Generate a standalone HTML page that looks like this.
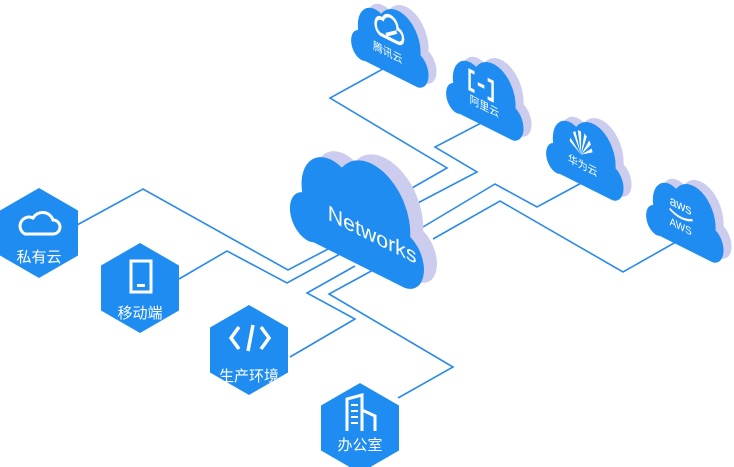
<!DOCTYPE html>
<html><head><meta charset="utf-8"><style>
html,body{margin:0;padding:0;background:#fff;}
svg{display:block;}
text{font-family:"Liberation Sans","Noto Sans CJK SC",sans-serif;fill:#fff;}
</style></head><body>
<svg width="734" height="467" viewBox="0 0 734 467" xmlns="http://www.w3.org/2000/svg">
<defs>
<path id="cl" d="M18,70 H82 A15,15 0 0 0 86,41 A27,27 0 0 0 38,22 A21,21 0 0 0 10,46 A12,12 0 0 0 18,70 Z"/>
<path id="hx" d="M39,0 L78,22.5 L78,67.5 L39,90 L0,67.5 L0,22.5 Z"/>
</defs>
<g fill="none" stroke="#2a8ae8" stroke-width="1.6">
<polyline points="77,225 143,189 288,270 330,248"/>
<polyline points="179,279 227,251 287,283 340,254"/>
<polyline points="290,357 355,319 307,293 355,266"/>
<polyline points="398,398 453,367 329,294 375,269"/>
<polyline points="390,65 330,98 447,168 405,192"/>
<polyline points="483,122 435,147 477,172 412,206"/>
<polyline points="587,180 537,207 495,184 423,227"/>
<polyline points="683,238 623,272 500,201 433,239"/>
</g>
<!-- Networks cloud -->
<g transform="translate(301,94) matrix(1,0.5,0,1,0,0) scale(1.42,1.85)"><use href="#cl" fill="#cccdee"/></g>
<g transform="translate(288,100) matrix(1,0.5,0,1,0,0) scale(1.42,1.85)"><use href="#cl" fill="#1e8cf0"/>
<text x="28" y="70" font-size="15" transform="scale(1,0.77)" >Networks</text></g>
<!-- small clouds -->
<g transform="translate(358,-31) matrix(1,0.5,0,1,0,0) scale(0.82,1.15)"><use href="#cl" fill="#cccdee"/></g>
<g transform="translate(350,-27) matrix(1,0.5,0,1,0,0) scale(0.82,1.15)"><use href="#cl" fill="#1e8cf0"/>
<text x="28" y="70" font-size="12" transform="scale(1,0.8)">腾讯云</text>
<path d="M37,40 c-9,-2 -7,-16 3,-14 c4,-9 18,-7 18,2 c9,0 9,12 0,12 z M44,38 l13,-7" fill="none" stroke="#fff" stroke-width="3"/></g>
<g transform="translate(453,22) matrix(1,0.5,0,1,0,0) scale(0.82,1.15)"><use href="#cl" fill="#cccdee"/></g>
<g transform="translate(445,26) matrix(1,0.5,0,1,0,0) scale(0.82,1.15)"><use href="#cl" fill="#1e8cf0"/>
<text x="30" y="70" font-size="12" transform="scale(1,0.8)">阿里云</text>
<path d="M36,28 h-6 v16 h6 M52,28 h6 v16 h-6 M40,36 h8" fill="none" stroke="#fff" stroke-width="3"/></g>
<g transform="translate(553,82) matrix(1,0.5,0,1,0,0) scale(0.82,1.15)"><use href="#cl" fill="#cccdee"/></g>
<g transform="translate(545,86) matrix(1,0.5,0,1,0,0) scale(0.82,1.15)"><use href="#cl" fill="#1e8cf0"/>
<text x="28" y="70" font-size="12" transform="scale(1,0.8)">华为云</text>
<g fill="#fff"><path d="M44,44 l-10,-16 l3,-2z M44,44 l-4,-20 l4,0z M44,44 l4,-20 l3,2z M44,44 l10,-16 l2,3z M44,44 l-14,-7 l1,-3z M44,44 l14,-7 l-1,-3z"/></g></g>
<g transform="translate(653,144) matrix(1,0.5,0,1,0,0) scale(0.82,1.15)"><use href="#cl" fill="#cccdee"/></g>
<g transform="translate(645,148) matrix(1,0.5,0,1,0,0) scale(0.82,1.15)"><use href="#cl" fill="#1e8cf0"/>
<text x="30" y="48" font-size="15" transform="scale(1,0.8)">aws</text>
<text x="30" y="70" font-size="12" transform="scale(1,0.8)">AWS</text>
<path d="M30,42 q14,6 28,0" fill="none" stroke="#fff" stroke-width="2"/></g>
<!-- hexagons -->
<g transform="translate(0,188)"><use href="#hx" fill="#1e8cf0"/>
<path d="M25,46 h28 a7,7 0 0 0 0,-14 a11,11 0 0 0 -20,-2 a8,8 0 0 0 -8,16z" fill="none" stroke="#fff" stroke-width="3"/>
<text x="39" y="74" font-size="15" text-anchor="middle">私有云</text></g>
<g transform="translate(101,243)"><use href="#hx" fill="#1e8cf0"/>
<rect x="30" y="18" width="20" height="31" fill="none" stroke="#fff" stroke-width="3"/><rect x="36" y="41" width="8" height="3" fill="#fff"/>
<text x="39" y="75" font-size="15" text-anchor="middle">移动端</text></g>
<g transform="translate(210,305)"><use href="#hx" fill="#1e8cf0"/>
<path d="M29,22 l-8,11 l8,11 M51,22 l8,11 l-8,11 M43,20 l-5,26" fill="none" stroke="#fff" stroke-width="3.5"/>
<text x="39" y="76" font-size="15" text-anchor="middle">生产环境</text></g>
<g transform="translate(321,383)"><use href="#hx" fill="#1e8cf0"/>
<path d="M26,48 v-32 l15,-4 v36 M41,27 l13,6 v15" fill="none" stroke="#fff" stroke-width="3"/>
<g fill="#fff"><rect x="30" y="21" width="7" height="2"/><rect x="30" y="27" width="7" height="2"/><rect x="30" y="33" width="7" height="2"/><rect x="30" y="39" width="7" height="2"/></g>
<text x="39" y="67" font-size="15" text-anchor="middle">办公室</text></g>
</svg>
</body></html>
